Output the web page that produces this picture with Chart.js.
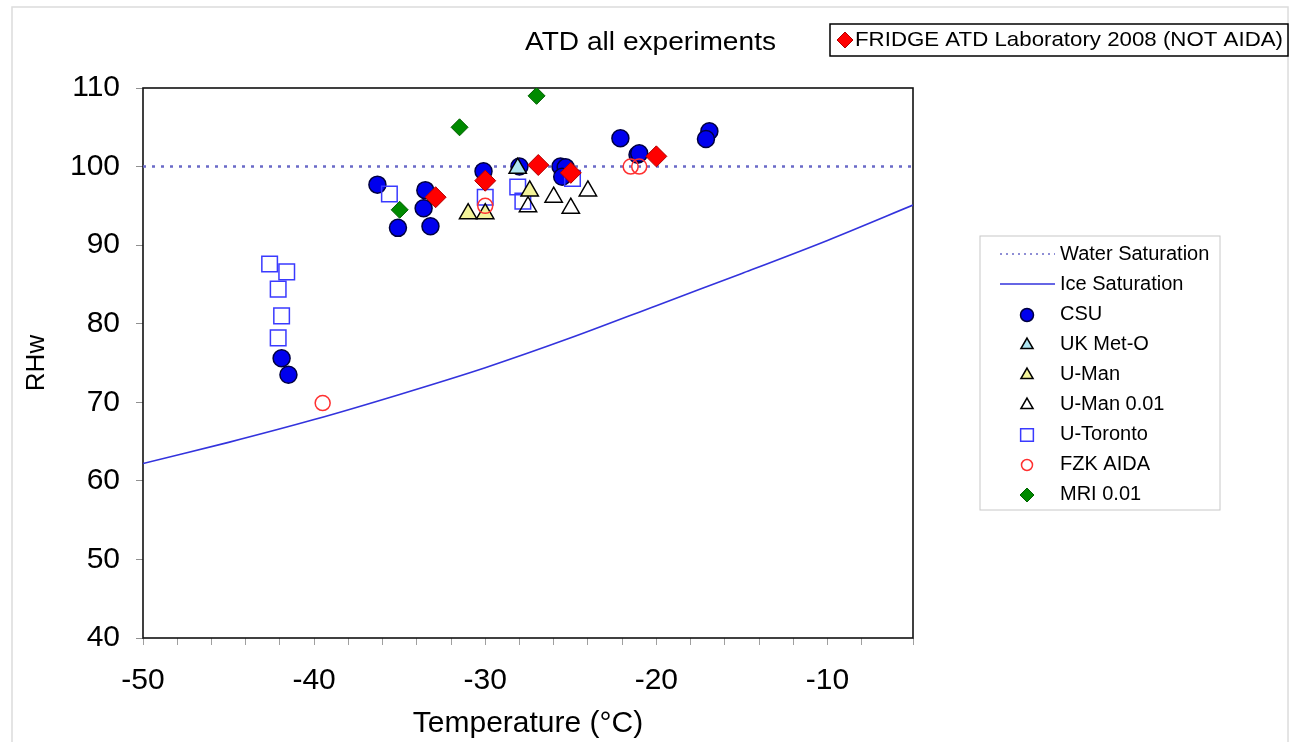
<!DOCTYPE html>
<html>
<head>
<meta charset="utf-8">
<script src="https://cdn.jsdelivr.net/npm/chart.js@4.4.0/dist/chart.umd.min.js"></script>
<style>
  html, body { margin: 0; padding: 0; background: #fff; }
  #caixa { width: 1293px; height: 742px; position: relative; }
</style>
</head>
<body>
<div id="caixa"><canvas id="grafico" width="1293" height="742"></canvas></div>
<script>
// valores (temperatura em C, RHw em %)
const csuT = [-36.3, -33.5, -33.6, -35.1, -33.2, -30.1, -28.0, -25.6, -25.3, -25.5, -22.1, -21.1, -21.0, -16.9, -17.1, -41.9, -41.5];
const csuRH = [97.7, 97.0, 94.7, 92.2, 92.4, 99.4, 100.0, 100.0, 99.9, 98.7, 103.6, 101.5, 101.7, 104.5, 103.5, 75.6, 73.5];

const ukMetT = [-28.1];
const ukMetRH = [99.8];

const uManT = [-31.0, -30.0, -27.4];
const uManRH = [94.0, 94.0, 96.9];

const uMan001T = [-27.5, -26.0, -25.0, -24.0];
const uMan001RH = [94.9, 96.1, 94.7, 96.9];

const torontoT = [-42.6, -41.6, -42.1, -41.9, -42.1, -35.6, -30.0, -28.1, -27.8, -24.9];
const torontoRH = [87.6, 86.6, 84.4, 81.0, 78.2, 96.5, 96.1, 97.4, 95.6, 98.5];

const fzkT = [-39.5, -30.0, -21.5, -21.0];
const fzkRH = [69.9, 95.0, 100.0, 100.0];

const mriT = [-35.0, -31.5, -27.0];
const mriRH = [94.5, 105.0, 109.0];

const fridgeT = [-32.9, -30.0, -26.9, -25.0, -20.0];
const fridgeRH = [96.1, 98.2, 100.2, 99.2, 101.3];

const aguaT = [-50, -5];
const aguaRH = [100, 100];

const geloT = [-50, -45, -40, -35, -30, -25, -20, -15, -10, -5];
const geloRH = [62.2, 64.9, 67.8, 71.0, 74.4, 78.2, 82.3, 86.4, 90.6, 95.1];

const xLabels = [-50, -40, -30, -20, -10];

const pontos = (xs, ys) => xs.map((x, i) => ({ x: x, y: ys[i] }));

const fonte = "'Liberation Sans', Arial, sans-serif";
Chart.defaults.font.family = fonte;
Chart.defaults.color = '#000';

function serie(label, xs, ys, estilo, raio, fundo, borda, larg) {
  return {
    label: label,
    data: pontos(xs, ys),
    pointStyle: estilo,
    pointRadius: raio,
    pointHoverRadius: raio,
    pointBackgroundColor: fundo,
    pointBorderColor: borda,
    pointBorderWidth: larg,
    showLine: false
  };
}

const transparente = 'rgba(0,0,0,0)';

const dsFridge = serie('FRIDGE ATD Laboratory 2008 (NOT AIDA)', fridgeT, fridgeRH, 'rectRot', 10.5, '#ff0000', '#b00000', 1);
const dsFzk = serie('FZK AIDA', fzkT, fzkRH, 'circle', 7.5, transparente, '#ff3030', 1.5);
const dsMri = serie('MRI 0.01', mriT, mriRH, 'rectRot', 8.5, '#008a00', '#006000', 1);
const dsUk = serie('UK Met-O', ukMetT, ukMetRH, 'triangle', 10, '#aee4f0', '#000', 1.5);
const dsUman = serie('U-Man', uManT, uManRH, 'triangle', 10, '#f3f39a', '#000', 1.5);
const dsUman001 = serie('U-Man 0.01', uMan001T, uMan001RH, 'triangle', 10, transparente, '#000', 1.5);
const dsToronto = serie('U-Toronto', torontoT, torontoRH, 'rect', 11, transparente, '#3a3aff', 1.5);
const dsCsu = serie('CSU', csuT, csuRH, 'circle', 8.5, '#0000ee', '#000040', 1.5);

const dsAgua = {
  label: 'Water Saturation',
  data: pontos(aguaT, aguaRH),
  showLine: true,
  borderColor: '#6a6ac8',
  borderWidth: 2.5,
  borderDash: [3, 6],
  pointRadius: 0
};
const dsGelo = {
  label: 'Ice Saturation',
  data: pontos(geloT, geloRH),
  showLine: true,
  borderColor: '#3333dd',
  borderWidth: 1.6,
  tension: 0.3,
  pointRadius: 0
};

// itens da legenda da direita, na ordem do original
const legendaItens = [dsAgua, dsGelo, dsCsu, dsUk, dsUman, dsUman001, dsToronto, dsFzk, dsMri];

function marcador(ctx, ds, x, y, raio) {
  ctx.save();
  ctx.fillStyle = ds.pointBackgroundColor;
  ctx.strokeStyle = ds.pointBorderColor;
  ctx.lineWidth = ds.pointBorderWidth;
  Chart.helpers.drawPoint(ctx, { pointStyle: ds.pointStyle, rotation: 0, radius: raio, borderWidth: ds.pointBorderWidth }, x, y);
  ctx.restore();
}

function textoAjustado(ctx, txt, x, y, tam, largura) {
  ctx.save();
  ctx.font = tam + 'px ' + fonte;
  const w = ctx.measureText(txt).width;
  ctx.translate(x, y);
  ctx.scale(largura / w, 1);
  ctx.textBaseline = 'middle';
  ctx.fillStyle = '#000';
  ctx.fillText(txt, 0, 0);
  ctx.restore();
}

const extras = {
  id: 'extras',
  beforeDraw(chart) {
    const ctx = chart.ctx;
    ctx.save();
    ctx.fillStyle = '#fff';
    ctx.fillRect(0, 0, chart.width, chart.height);
    ctx.strokeStyle = '#dcdcdc';
    ctx.lineWidth = 1.5;
    ctx.strokeRect(12, 7, 1276, 760);
    ctx.restore();
  },
  beforeDatasetsDraw(chart) {
    const ctx = chart.ctx;
    const a = chart.chartArea;
    ctx.save();
    ctx.strokeStyle = '#111';
    ctx.lineWidth = 1.6;
    ctx.strokeRect(a.left, a.top, a.right - a.left, a.bottom - a.top);
    ctx.restore();
  },
  afterDraw(chart) {
    const ctx = chart.ctx;
    // titulo
    textoAjustado(ctx, 'ATD all experiments', 525, 43, 26, 251);

    // caixa FRIDGE
    ctx.save();
    ctx.strokeStyle = '#000';
    ctx.lineWidth = 1.5;
    ctx.fillStyle = '#fff';
    ctx.fillRect(830, 24, 458, 32);
    ctx.strokeRect(830, 24, 458, 32);
    ctx.restore();
    marcador(ctx, dsFridge, 845, 40, 8);
    textoAjustado(ctx, dsFridge.label, 855, 40, 21, 428);

    // legenda da direita
    ctx.save();
    ctx.strokeStyle = '#c8c8c8';
    ctx.lineWidth = 1;
    ctx.fillStyle = '#fff';
    ctx.fillRect(980, 236, 240, 274);
    ctx.strokeRect(980, 236, 240, 274);
    ctx.restore();
    legendaItens.forEach((ds, i) => {
      const y = 254 + i * 30;
      if (ds.showLine) {
        ctx.save();
        ctx.strokeStyle = ds.borderColor;
        ctx.lineWidth = ds === dsAgua ? 1.5 : 1.6;
        ctx.setLineDash(ds === dsAgua ? [2, 4] : []);
        ctx.beginPath();
        ctx.moveTo(1000, y);
        ctx.lineTo(1055, y);
        ctx.stroke();
        ctx.restore();
      } else {
        let r = 6.5;
        if (ds.pointStyle === 'rect') r = 9;
        if (ds === dsFzk) r = 5.5;
        if (ds.pointStyle === 'triangle') r = 7;
        if (ds.pointStyle === 'rectRot') r = 7;
        marcador(ctx, ds, 1027, y + 1, r);
      }
      ctx.save();
      ctx.font = '20px ' + fonte;
      ctx.fillStyle = '#000';
      ctx.textBaseline = 'middle';
      ctx.fillText(ds.label, 1060, y);
      ctx.restore();
    });
  }
};

new Chart(document.getElementById('grafico'), {
  type: 'scatter',
  data: {
    datasets: [dsFridge, dsFzk, dsMri, dsUk, dsUman, dsUman001, dsToronto, dsCsu, dsAgua, dsGelo]
  },
  options: {
    responsive: false,
    animation: false,
    events: [],
    layout: { padding: { left: 0, top: 88, right: 380, bottom: 0 } },
    plugins: { legend: { display: false }, tooltip: { enabled: false } },
    scales: {
      x: {
        type: 'linear',
        min: -50,
        max: -5,
        afterFit: (s) => { s.height = 104; },
        border: { display: false },
        grid: { drawOnChartArea: false, drawTicks: true, tickLength: 7, tickColor: '#a0a0a0' },
        ticks: {
          stepSize: 2,
          autoSkip: false,
          maxRotation: 0,
          padding: 18,
          font: { size: 30 },
          callback: (v) => xLabels.includes(v) ? String(v) : ''
        },
        title: { display: true, text: 'Temperature (°C)', font: { size: 30 }, padding: { top: 0, bottom: 0 } }
      },
      y: {
        type: 'linear',
        min: 40,
        max: 110,
        afterFit: (s) => { s.width = 143; },
        border: { display: false },
        grid: { drawOnChartArea: false, drawTicks: true, tickLength: 7, tickColor: '#909090' },
        ticks: { stepSize: 10, padding: 16, font: { size: 30 } },
        title: { display: true, text: 'RHw', font: { size: 26 }, padding: { top: 21, bottom: 0 } }
      }
    }
  },
  plugins: [extras]
});
</script>
</body>
</html>
